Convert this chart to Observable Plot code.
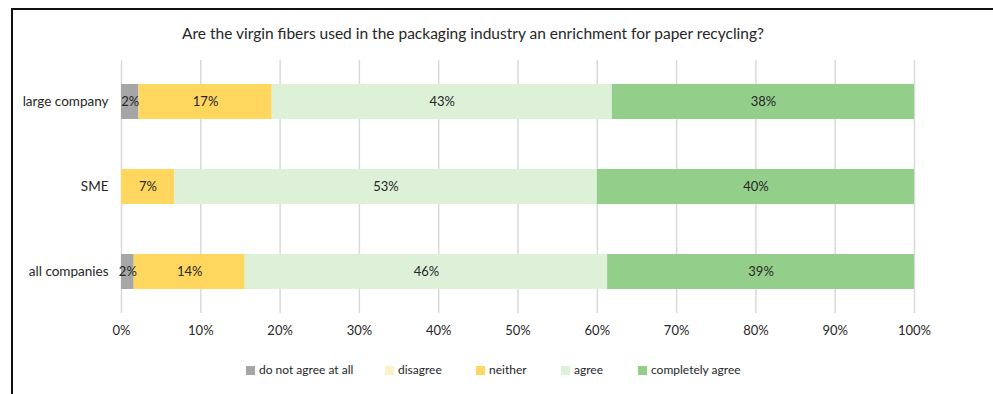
<!DOCTYPE html>
<html>
<head>
<meta charset="utf-8">
<script src="https://cdn.jsdelivr.net/npm/d3@7"></script>
<script src="https://cdn.jsdelivr.net/npm/@observablehq/plot@0.6"></script>
<style>
  html, body { margin: 0; padding: 0; background: #fff; }
  #wrap { position: relative; width: 993px; height: 394px; overflow: hidden; font-family: Lato, "Open Sans", sans-serif; color: #262626; }
  #frame { position: absolute; left: 11px; top: 8px; width: 1100px; height: 500px; border: 2px solid #111; box-sizing: border-box; pointer-events: none; }
  #title { position: absolute; left: 0; top: 22px; width: 946px; text-align: center; font-size: 15.5px; line-height: 22px; }
  #chart { position: absolute; left: 0; top: 55px; }
  #legend { position: absolute; top: 361px; left: 0; height: 18px; width: 993px; font-size: 12px; }
  .item { position: absolute; top: 0; line-height: 18px; white-space: nowrap; }
  .sw { display: inline-block; width: 9px; height: 9px; margin-right: 4px; vertical-align: -0.5px; }
</style>
</head>
<body>
<div id="wrap">
  <div id="title">Are the virgin fibers used in the packaging industry an enrichment for paper recycling?</div>
  <div id="chart"></div>
  <div id="legend"></div>
  <div id="frame"></div>
</div>
<script>
const categories = ["large company", "SME", "all companies"];
const seriesNames = ["do not agree at all", "disagree", "neither", "agree", "completely agree"];
const seriesColors = ["#a6a6a6", "#fff0cc", "#ffd75e", "#ddf0d8", "#93cf8a"];
const doNotAgreeAtAll = [2.2, 0, 1.6];
const disagree = [0, 0, 0];
const neither = [16.8, 6.7, 14.0];
const agree = [42.9, 53.3, 45.7];
const completelyAgree = [38.1, 40.0, 38.7];
const xTicks = [0, 10, 20, 30, 40, 50, 60, 70, 80, 90, 100];
const legendX = [246, 385, 476, 561, 638];

const seriesValues = [doNotAgreeAtAll, disagree, neither, agree, completelyAgree];
const rows = [];
seriesNames.forEach((s, si) => {
  categories.forEach((c, ci) => {
    rows.push({category: c, series: s, value: seriesValues[si][ci]});
  });
});

const chart = Plot.plot({
  width: 993,
  height: 290,
  marginTop: 5,
  marginBottom: 32,
  marginLeft: 121,
  marginRight: 79,
  style: {fontFamily: "Lato, 'Open Sans', sans-serif", fontSize: "13px", color: "#262626", background: "transparent"},
  x: {domain: [0, 100], ticks: xTicks, tickFormat: d => d + "%", label: null},
  y: {domain: categories, paddingInner: 0.59, paddingOuter: 0.28, label: null},
  color: {domain: seriesNames, range: seriesColors},
  marks: [
    Plot.ruleX(xTicks, {stroke: "#d9d9d9", strokeWidth: 1.5}),
    Plot.barX(rows, Plot.stackX({x: "value", y: "category", fill: "series", z: "series", order: null})),
    Plot.text(rows, Plot.stackX({
      x: "value", y: "category", z: "series", order: null,
      text: d => d.value > 0 ? Math.round(d.value) + "%" : "",
      fill: "#262626", fontSize: 13
    })),
    Plot.axisX({ticks: xTicks, tickFormat: d => d + "%", tickSize: 0, tickPadding: 12, fontSize: 13, label: null}),
    Plot.axisY({tickSize: 0, tickPadding: 13, fontSize: 13.5, label: null})
  ]
});
document.getElementById("chart").appendChild(chart);

const legend = document.getElementById("legend");
seriesNames.forEach((s, i) => {
  const it = document.createElement("div");
  it.className = "item";
  it.style.left = legendX[i] + "px";
  const sw = document.createElement("span");
  sw.className = "sw";
  sw.style.background = seriesColors[i];
  it.appendChild(sw);
  it.appendChild(document.createTextNode(s));
  legend.appendChild(it);
});
</script>
</body>
</html>
